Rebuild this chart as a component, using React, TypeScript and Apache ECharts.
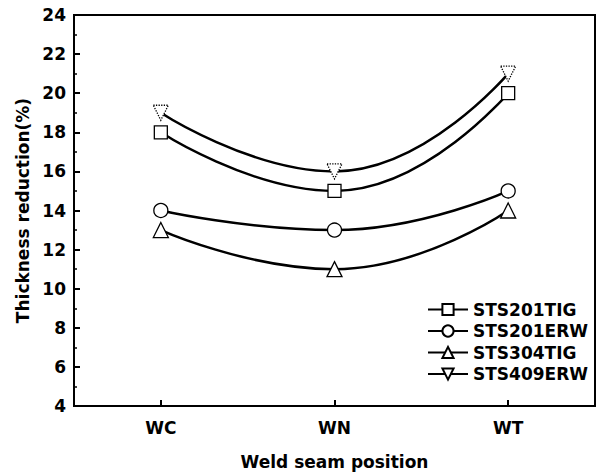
import React, { useEffect, useRef } from "react";
import * as echarts from "echarts";

const categories = ["WC", "WN", "WT"];
const seriesNames = ["STS201TIG", "STS201ERW", "STS304TIG", "STS409ERW"];
const sts201tig = [18, 15, 20];
const sts201erw = [14, 13, 15];
const sts304tig = [13, 11, 14];
const sts409erw = [19, 16, 21];
const yMin = 4;
const yMax = 24;
const yInterval = 2;

const FONT = "DejaVu Sans";

export default function App() {
  const ref = useRef<HTMLDivElement>(null);
  useEffect(() => {
    if (!ref.current) return;
    const chart = echarts.init(ref.current, undefined, { renderer: "svg" });
    const mk = (name: string, data: number[], symbol: string, size: number, dotted = false) => ({
      name,
      type: "line",
      data,
      smooth: 0.5,
      symbol,
      symbolSize: size,
      showSymbol: true,
      lineStyle: { color: "#000", width: 2.5 },
      itemStyle: {
        color: "#fff",
        borderColor: "#000",
        borderWidth: 1.3,
        borderType: dotted ? "dotted" : "solid",
      },
      z: 3,
    });
    chart.setOption({
      animation: false,
      backgroundColor: "#fff",
      grid: {
        left: 74,
        top: 15,
        width: 521,
        bottom: 68,
        show: true,
        borderColor: "#000",
        borderWidth: 2,
      },
      legend: {
        orient: "vertical",
        left: 422,
        top: 296,
        itemWidth: 40,
        itemHeight: 14,
        itemGap: 4.5,
        data: seriesNames,
        textStyle: { fontFamily: FONT, fontWeight: "bold", fontSize: 17, lineHeight: 14, color: "#000" },
      },
      xAxis: {
        type: "category",
        data: categories,
        boundaryGap: true,
        axisLine: { lineStyle: { color: "#000", width: 2 } },
        axisTick: { show: true, inside: true, alignWithLabel: true, length: 6, lineStyle: { color: "#000", width: 2 } },
        axisLabel: { fontFamily: FONT, fontWeight: "bold", fontSize: 17, color: "#000", margin: 13 },
        name: "Weld seam position",
        nameLocation: "middle",
        nameGap: 47,
        nameTextStyle: { fontFamily: FONT, fontWeight: "bold", fontSize: 17, color: "#000" },
        splitLine: { show: false },
      },
      yAxis: {
        type: "value",
        min: yMin,
        max: yMax,
        interval: yInterval,
        axisLine: { show: true, lineStyle: { color: "#000", width: 2 } },
        axisTick: { show: true, inside: true, length: 6, lineStyle: { color: "#000", width: 2 } },
        minorTick: { show: true, splitNumber: 2, length: 3, lineStyle: { color: "#000", width: 1.5 } },
        axisLabel: { fontFamily: FONT, fontWeight: "bold", fontSize: 17, color: "#000", margin: 8 },
        splitLine: { show: false },
        name: "Thickness reduction(%)",
        nameLocation: "middle",
        nameGap: 40,
        nameRotate: 90,
        nameTextStyle: { fontFamily: FONT, fontWeight: "bold", fontSize: 17, color: "#000" },
      },
      series: [
        mk(seriesNames[0], sts201tig, "rect", 13),
        mk(seriesNames[1], sts201erw, "circle", 14),
        mk(seriesNames[2], sts304tig, "triangle", 15),
        mk(seriesNames[3], sts409erw, "path://M0,0 L10,0 L5,10 Z", 15, true),
      ],
    });
    return () => chart.dispose();
  }, []);
  return (
    <div
      ref={ref}
      style={{ position: "fixed", left: 0, top: 0, width: 599, height: 475 }}
    />
  );
}
